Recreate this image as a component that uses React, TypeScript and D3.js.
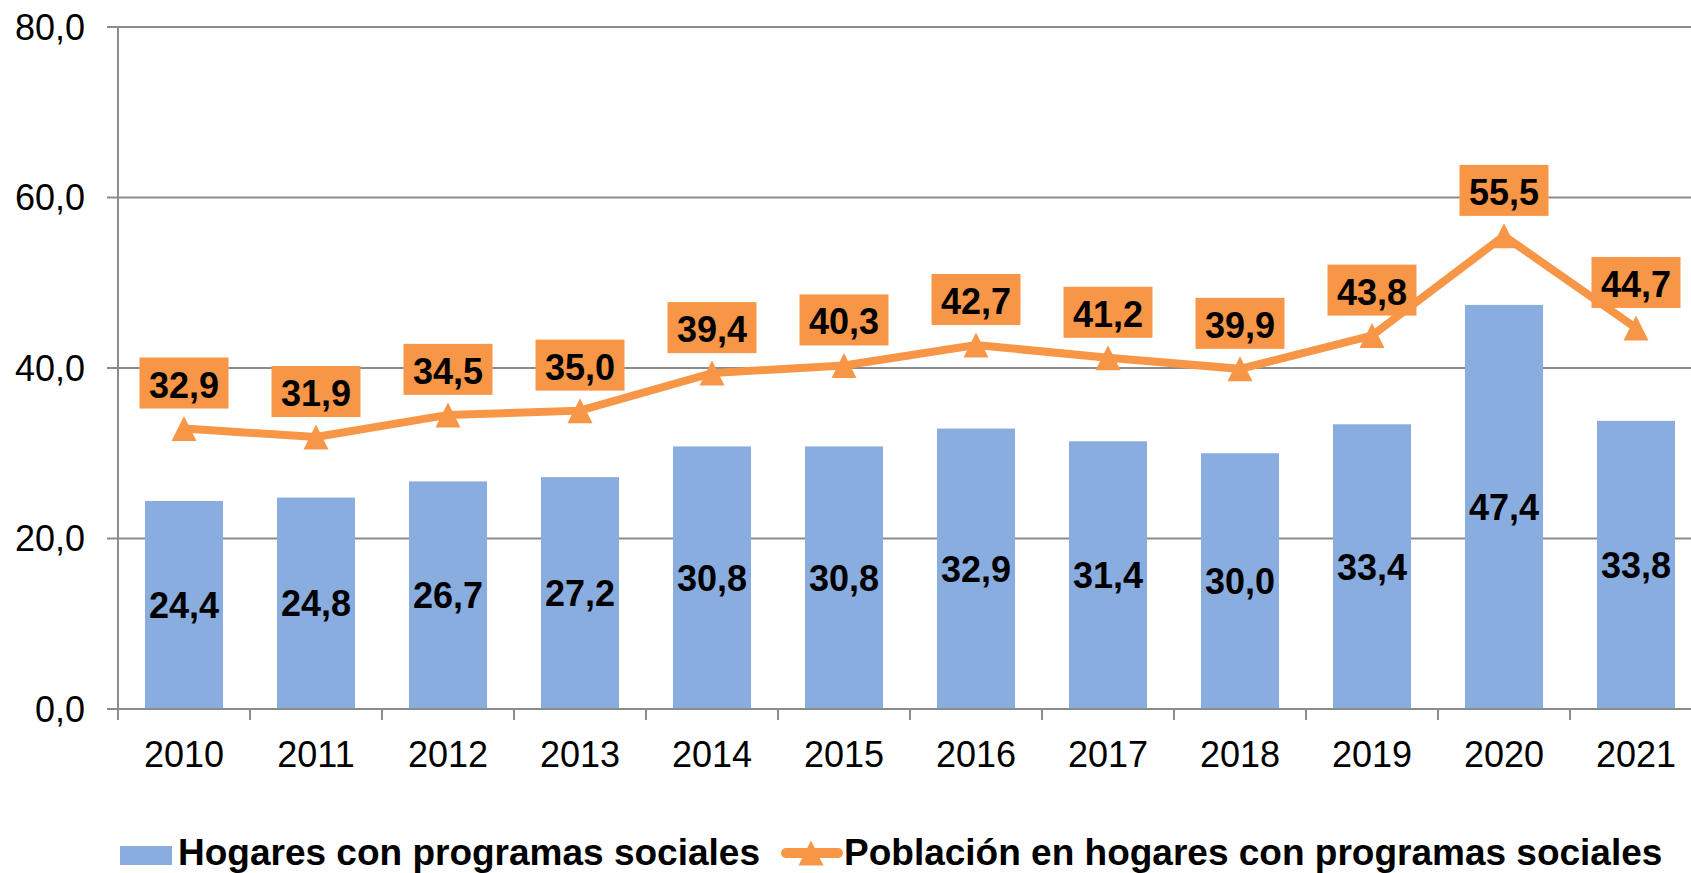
import { scaleBand, scaleLinear, line, format } from "d3";

const years = ["2010", "2011", "2012", "2013", "2014", "2015", "2016", "2017", "2018", "2019", "2020", "2021"];
const hogares = [24.4, 24.8, 26.7, 27.2, 30.8, 30.8, 32.9, 31.4, 30.0, 33.4, 47.4, 33.8];
const poblacion = [32.9, 31.9, 34.5, 35.0, 39.4, 40.3, 42.7, 41.2, 39.9, 43.8, 55.5, 44.7];
const yTicks = [0, 20, 40, 60, 80];
const seriesNames = ["Hogares con programas sociales", "Población en hogares con programas sociales"];

const W = 1691;
const H = 873;
const BAR = "#8AADE0";
const ORANGE = "#F79646";
const GRID = "#8c8c8c";
const FONT = "'Liberation Sans', Arial, sans-serif";

const fmt = (v: number) => format(".1f")(v).replace(".", ",");

// triangle marker centred on its box, like the spreadsheet one
const tri = (s: number) => `M0,${-s}L${s},${s}L${-s},${s}Z`;

export default function App() {
  let left = 118;
  let step = 132;
  let x = scaleBand()
    .domain(years)
    .range([left, left + step * years.length])
    .padding(0);
  let y = scaleLinear().domain([0, 80]).range([709, 27]);
  let barW = 78;
  let cx = (d: string) => (x(d) as number) + x.bandwidth() / 2;

  let path = line<number>()
    .x((_, i) => cx(years[i]))
    .y((d) => y(d));

  return (
    <div style={{ position: "fixed", left: 0, top: 0 }}>
      <svg width={W} height={H} style={{ display: "block", fontFamily: FONT }}>
        <rect width={W} height={H} fill="white" />
        {/* grid + y axis */}
        {yTicks.map((t) => (
          <g key={t}>
            <line x1={107} x2={W} y1={y(t)} y2={y(t)} stroke={GRID} strokeWidth={2} />
            <text x={85} y={y(t)} dy="0.35em" textAnchor="end" fontSize={36} fill="#000">
              {fmt(t)}
            </text>
          </g>
        ))}
        <line x1={left} x2={left} y1={y(80)} y2={720} stroke={GRID} strokeWidth={2} />
        {years.map((d) => (
          <line key={"tk" + d} x1={(x(d) as number) + step} x2={(x(d) as number) + step} y1={709} y2={720} stroke={GRID} strokeWidth={2} />
        ))}

        {/* bars */}
        {hogares.map((v, i) => (
          <rect
            key={"b" + i}
            x={cx(years[i]) - barW / 2}
            width={barW}
            y={y(v)}
            height={y(0) - y(v)}
            fill={BAR}
          />
        ))}
        <line x1={left} x2={W} y1={y(0)} y2={y(0)} stroke={GRID} strokeWidth={2} />

        {hogares.map((v, i) => (
          <text
            key={"bl" + i}
            x={cx(years[i])}
            y={(y(v) + y(0)) / 2}
            dy="0.36em"
            textAnchor="middle"
            fontSize={36}
            fontWeight="bold"
            fill="#000"
          >
            {fmt(v)}
          </text>
        ))}

        {/* x labels */}
        {years.map((d) => (
          <text key={"xl" + d} x={cx(d)} y={767} textAnchor="middle" fontSize={36} fill="#000">
            {d}
          </text>
        ))}

        {/* line series */}
        <path d={path(poblacion) || ""} fill="none" stroke={ORANGE} strokeWidth={8} />
        {poblacion.map((v, i) => (
          <path key={"m" + i} d={tri(12.5)} transform={`translate(${cx(years[i])},${y(v)})`} fill={ORANGE} />
        ))}
        {poblacion.map((v, i) => (
          <g key={"pl" + i} transform={`translate(${cx(years[i])},${y(v) - 20})`}>
            <rect x={-44.5} y={-51} width={89} height={51} fill={ORANGE} />
            <text y={-11} textAnchor="middle" fontSize={36} fontWeight="bold" fill="#000">
              {fmt(v)}
            </text>
          </g>
        ))}

        {/* legend */}
        <rect x={120} y={846} width={52} height={19} fill={BAR} />
        <text x={178} y={865} fontSize={37} fontWeight="bold" fill="#000">
          {seriesNames[0]}
        </text>
        <line x1={786} x2={838} y1={853} y2={853} stroke={ORANGE} strokeWidth={10} strokeLinecap="round" />
        <path d={tri(12.5)} transform="translate(811,853)" fill={ORANGE} />
        <text x={844} y={865} fontSize={37} fontWeight="bold" fill="#000">
          {seriesNames[1]}
        </text>
      </svg>
    </div>
  );
}
